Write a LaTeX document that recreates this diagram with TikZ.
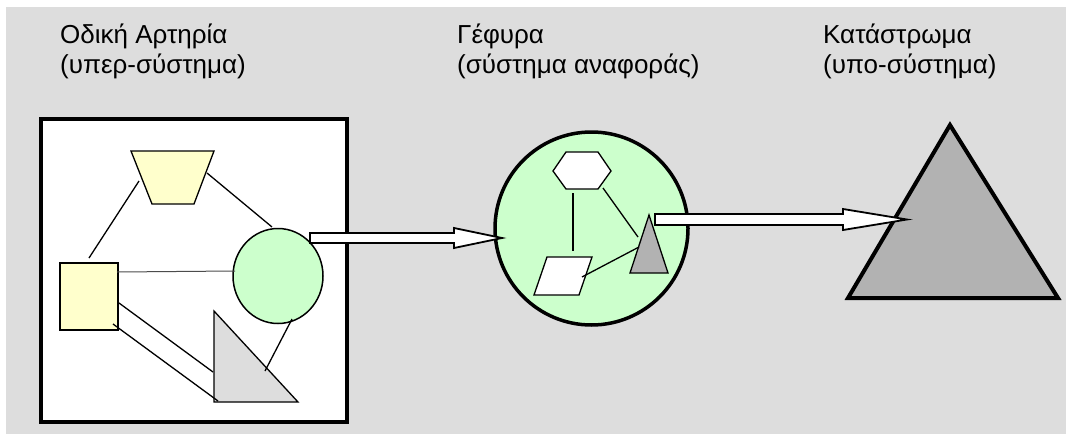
\documentclass[tikz,border=0pt]{standalone}
\usepackage{fontspec}
\setmainfont{Liberation Sans}
\usetikzlibrary{shapes.geometric}
\definecolor{panel}{HTML}{DDDDDD}
\definecolor{paleyellow}{HTML}{FFFFCC}
\definecolor{palegreen}{HTML}{CCFFCC}
\definecolor{lightgrey}{HTML}{DDDDDD}
\definecolor{midgrey}{HTML}{B2B2B2}
\begin{document}
\begin{tikzpicture}[x=1pt,y=-1pt,
  label/.style={anchor=base west,inner sep=0pt,font=\fontsize{26}{30}\selectfont},
  part/.style={draw=black,line width=1.3pt,line join=miter},
  link/.style={draw=black,line width=1.3pt},
  blockarrow/.style={draw=black,fill=white,line width=1.8pt,line join=miter}]
\useasboundingbox (0,0) rectangle (1066,434);
\fill[panel] (6,7) rectangle (1066,434);

% headings
\node[label] (h1a) at (60,43) {Οδική Αρτηρία};
\node[label] (h1b) at (60,73) {(υπερ-σύστημα)};
\node[label] (h2a) at (457,43) {Γέφυρα};
\node[label] (h2b) at (457,73) {(σύστημα αναφοράς)};
\node[label] (h3a) at (823,43) {Κατάστρωμα};
\node[label] (h3b) at (823,73) {(υπο-σύστημα)};

% super-system frame
\draw[line width=4pt,fill=white,line join=miter] (41,119) rectangle (347,422);

% parts of the super-system
\draw[part,fill=paleyellow] (131,151) -- (214,151) -- (194,204) -- (152,204) -- cycle;
\draw[part,fill=paleyellow] (60,263) rectangle (118,330);
\draw[part,fill=lightgrey] (214,311) -- (214,402) -- (298,402) -- cycle;
\node[ellipse,draw=black,line width=1.5pt,fill=palegreen,inner sep=0pt,
      minimum width=90pt,minimum height=95pt] (sub) at (278,276) {};

% links inside the frame
\coordinate (tz1) at (139,181); \coordinate (sq1) at (89,258);
\coordinate (tz2) at (207,173); \coordinate (ci1) at (272,227);
\coordinate (sq2) at (117,272); \coordinate (ci2) at (235,271);
\coordinate (sq3) at (119,303); \coordinate (tr1) at (213,372);
\coordinate (sq4) at (113,324); \coordinate (tr2) at (218,401);
\coordinate (ci3) at (292,319); \coordinate (tr3) at (265,371);
\draw[link] (tz1) -- (sq1);
\draw[link] (tz2) -- (ci1);
\draw[link,line width=1pt,draw=black!70] (sq2) -- (ci2);
\draw[link] (sq3) -- (tr1);
\draw[link] (sq4) -- (tr2);
\draw[link] (ci3) -- (tr3);

% reference system
\node[circle,draw=black,line width=3.5pt,fill=palegreen,inner sep=0pt,
      minimum size=193pt] (bridge) at (591.5,228.5) {};
\draw[part,fill=white] (553,171) -- (566,152) -- (598,152) -- (611,171) -- (598,189) -- (566,189) -- cycle;
\draw[part,fill=white] (547,257) -- (592,257) -- (579,295) -- (534,295) -- cycle;
\draw[part,fill=midgrey] (649,215) -- (668,273) -- (630,273) -- cycle;
\coordinate (hx1) at (573,193); \coordinate (pg1) at (573,251);
\coordinate (hx2) at (603,188); \coordinate (st1) at (638,237);
\coordinate (pg2) at (582,277); \coordinate (st2) at (639,247);
\draw[link] (hx1) -- (pg1);
\draw[link] (hx2) -- (st1);
\draw[link] (pg2) -- (st2);

% sub-system
\draw[line width=4pt,fill=midgrey,line join=miter] (950,125) -- (1058,298) -- (848,298) -- cycle;

% block arrows between the levels
\draw[blockarrow] (310,233) -- (454,233) -- (454,228) -- (502,238) -- (454,248) -- (454,243) -- (310,243) -- cycle;
\draw[blockarrow] (655,214) -- (843,214) -- (843,209) -- (907,219.5) -- (843,230) -- (843,225) -- (655,225) -- cycle;
\end{tikzpicture}
\end{document}
